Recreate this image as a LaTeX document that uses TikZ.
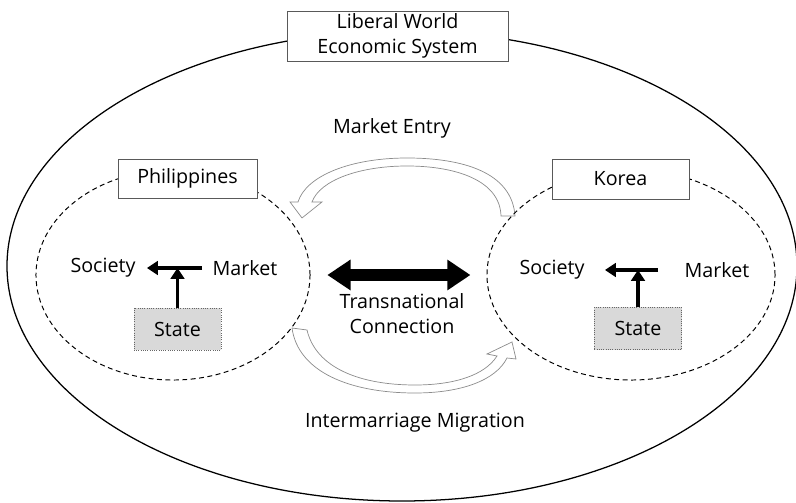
\documentclass[tikz,border=0pt]{standalone}
\usepackage{fontspec}
\setmainfont{Open Sans}
\usetikzlibrary{arrows.meta,positioning,shapes.geometric}

\begin{document}
\begin{tikzpicture}[x=0.025cm,y=-0.025cm,
  font=\fontsize{14}{17.7}\selectfont,
  labelbox/.style={draw=black!65,fill=white,line width=0.6pt,inner sep=0pt},
  statebox/.style={draw=black!60,densely dotted,fill=black!15,line width=0.6pt,
    minimum width=2.175cm,minimum height=1.05cm,inner sep=0pt},
  region/.style={ellipse,draw,line width=0.7pt,dash pattern=on 3.5pt off 2.5pt,inner sep=0pt},
  flow/.style={line width=2.2pt,-{Triangle[length=0.27cm,width=0.34cm]}},
  link/.style={line width=0.28cm,{Triangle[length=0.58cm,width=0.73cm]}-{Triangle[length=0.58cm,width=0.73cm]}},
  blockarrow/.style={draw=black!45,fill=white,line width=0.5pt}]
%
\useasboundingbox (0,0) rectangle (796,503);
%
% world system
\draw[line width=0.9pt] (402,266) ellipse [x radius=395, y radius=235];
\node[labelbox,minimum width=5.525cm,minimum height=1.25cm,align=center] (world) at (397.5,36) {Liberal World\\Economic System};
%
% hollow flows
\path[blockarrow] (515,216) .. controls (512,172) and (462,158) .. (407,158)
  .. controls (350,158) and (306,176) .. (298,202) -- (290,202) -- (302,218) -- (322,202) -- (312,202)
  .. controls (320,180) and (360,166) .. (407,166) .. controls (455,166) and (500,180) .. (501,216) -- cycle;
\path[blockarrow] (292,328) .. controls (298,372) and (350,393) .. (415,393)
  .. controls (462,393) and (496,380) .. (507,358) -- (516,359) -- (512,342) -- (487,354) -- (497,356)
  .. controls (485,375) and (455,385) .. (415,385) .. controls (360,385) and (316,368) .. (307,330) -- cycle;
\node (entry) at (392,128) {Market Entry};
\node (migration) at (415,423) {Intermarriage Migration};
%
% countries
\node[region,minimum width=6.85cm,minimum height=5.25cm] (phil) at (173,275) {};
\node[region,minimum width=7.2cm,minimum height=5.25cm] (kor) at (631,275) {};
\node[labelbox,minimum width=3.475cm,minimum height=0.975cm] (philname) at (187.5,178.5) {Philippines};
\node[labelbox,minimum width=3.425cm,minimum height=1cm] (korname) at (620.5,179) {Korea};
%
\draw[link,shorten <=0.42cm,shorten >=0.4cm] (phil.east) -- (kor.west);
\node[align=center] (connection) at (402,314) {Transnational\\Connection};
%
% Philippines
\node (socL) at (103,268) {Society};
\node (mktL) at (245,268) {Market};
\node[statebox] (stateL) at (177.5,329) {State};
\coordinate (barL) at (202,268);
\coordinate (tipL) at (147,268);
\draw[flow] (barL) -- (tipL);
\draw[flow] (stateL) -- (stateL |- barL);
%
% Korea
\node (socR) at (552,270) {Society};
\node (mktR) at (717,270) {Market};
\node[statebox] (stateR) at (638,328.5) {State};
\coordinate (barR) at (658,270);
\coordinate (tipR) at (605,270);
\draw[flow] (barR) -- (tipR);
\draw[flow] (stateR) -- (stateR |- barR);
%
\end{tikzpicture}
\end{document}
